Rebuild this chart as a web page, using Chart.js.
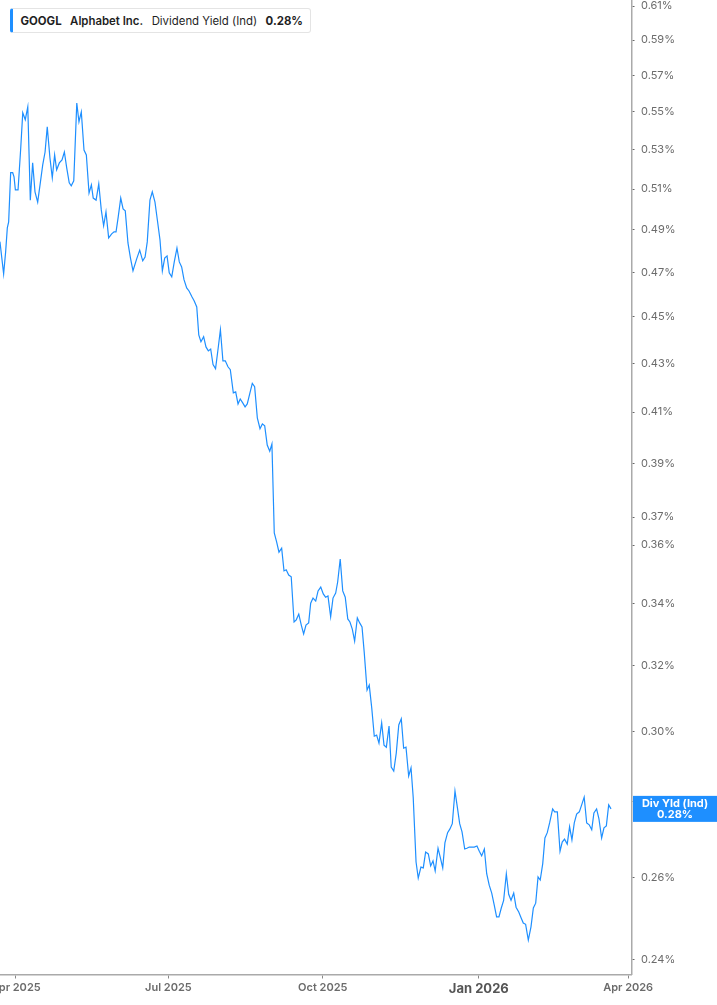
<!DOCTYPE html>
<html>
<head>
<meta charset="utf-8">
<script src="https://cdn.jsdelivr.net/npm/chart.js@4.4.1/dist/chart.umd.min.js"></script>
<style>
  html, body { margin: 0; padding: 0; background: #fff; }
  #wrap { position: relative; width: 717px; height: 1005px; }
  #legend {
    position: absolute; left: 10px; top: 8px; width: 301px; height: 25px;
    box-sizing: border-box; background: #fff;
    border: 1px solid #e4e4e4; border-left: 3px solid #1e8fff; border-radius: 3px;
    display: flex; align-items: center; gap: 8.5px; padding-left: 7.5px;
    font: 11.4px Inter, sans-serif; color: #1f1f1f; white-space: nowrap;
  }
  #legend .tk { font-weight: 700; }
  #legend .nm { font-weight: 600; }
  #legend .ms { font-weight: 400; }
  #legend .vl { font-weight: 700; }
</style>
</head>
<body>
<div id="wrap">
  <canvas id="chart"></canvas>
  <div id="legend">
    <span class="tk">GOOGL</span>
    <span class="nm">Alphabet Inc.</span>
    <span class="ms">Dividend Yield (Ind)</span>
    <span class="vl" id="legendVal"></span>
  </div>
</div>
<script>
// days since 1 Apr 2025 (trading sessions)
const days = [
  -9.4, -7.2, -6.0, -5.0, -4.2, -3.0, -1.8, -1.0, -0.2, 1.4,
  3.0, 4.2, 5.7, 7.2, 8.7, 10.1, 11.5, 13.1, 14.5, 16.1,
  17.5, 18.8, 20.4, 21.8, 23.2, 24.4, 26.0, 27.6, 29.0, 30.4,
  31.9, 33.1, 34.6, 36.4, 37.7, 39.1, 40.7, 42.1, 43.7, 45.1,
  46.2, 47.9, 49.5, 51.0, 52.4, 53.8, 55.4, 57.2, 58.6, 59.8,
  61.1, 62.6, 64.0, 65.3, 66.9, 68.4, 69.9, 72.1, 73.9, 75.7,
  77.1, 78.4, 80.0, 81.4, 83.0, 84.4, 86.0, 87.4, 88.8, 90.2,
  91.5, 93.0, 94.5, 96.1, 97.5, 98.9, 100.3, 101.9, 103.3, 105.1,
  106.4, 107.9, 109.1, 110.4, 112.0, 113.4, 114.8, 116.2, 117.6, 119.1,
  120.6, 122.0, 123.5, 124.9, 126.5, 127.9, 129.7, 131.1, 132.5, 133.8,
  135.3, 136.7, 138.0, 139.6, 141.0, 142.4, 144.0, 145.6, 147.0, 148.4,
  149.9, 151.4, 152.7, 154.1, 155.5, 156.9, 158.5, 159.9, 161.2, 162.7,
  164.2, 165.9, 167.2, 168.7, 170.2, 171.6, 173.0, 174.6, 175.8, 177.2,
  178.8, 180.2, 181.8, 183.3, 184.7, 186.1, 187.7, 189.1, 190.7, 191.9,
  193.4, 194.9, 196.4, 197.9, 199.2, 200.6, 202.0, 203.6, 205.0, 206.4,
  207.7, 209.4, 210.7, 212.2, 213.7, 215.1, 216.5, 218.1, 219.5, 220.9,
  222.5, 223.8, 225.3, 226.8, 228.3, 229.8, 231.2, 232.6, 234.2, 235.6,
  236.9, 238.6, 239.9, 241.5, 242.9, 244.3, 245.9, 247.3, 248.7, 250.0,
  251.7, 253.0, 254.5, 255.8, 257.4, 258.8, 260.2, 261.8, 263.2, 264.6,
  266.0, 267.6, 268.9, 270.3, 271.9, 273.3, 274.9, 276.3, 277.7, 279.3,
  280.7, 282.2, 283.7, 285.2, 286.6, 288.0, 289.4, 290.8, 292.4, 293.8,
  295.2, 296.8, 298.2, 299.8, 301.3, 302.5, 303.9, 305.5, 307.1, 308.5,
  309.9, 311.3, 312.6, 314.1, 315.4, 316.8, 318.2, 320.0, 321.2, 322.8,
  324.4, 325.7, 327.1, 328.7, 330.1, 331.5, 332.9, 334.3, 335.9, 337.3,
  338.8, 340.3, 341.8, 343.3, 344.6, 346.2, 347.6, 349.2, 350.6, 352.0,
  353.4, 354.8
];

// dividend yield, %
const yields = [
  0.4844, 0.4694, 0.4796, 0.4910, 0.4939, 0.5182, 0.5182, 0.5161, 0.5096, 0.5096,
  0.5309, 0.5495, 0.5458, 0.5527, 0.5045, 0.5232, 0.5086, 0.5035, 0.5121, 0.5222,
  0.5288, 0.5420, 0.5258, 0.5156, 0.5273, 0.5197, 0.5232, 0.5247, 0.5288, 0.5207,
  0.5131, 0.5116, 0.5141, 0.5548, 0.5447, 0.5500, 0.5298, 0.5273, 0.5080, 0.5121,
  0.5055, 0.5045, 0.5126, 0.4997, 0.4920, 0.4987, 0.4862, 0.4881, 0.4891, 0.4891,
  0.4963, 0.5055, 0.5002, 0.4992, 0.4838, 0.4767, 0.4708, 0.4763, 0.4804, 0.4754,
  0.4772, 0.4843, 0.5045, 0.5086, 0.5035, 0.4949, 0.4852, 0.4708, 0.4767, 0.4777,
  0.4699, 0.4680, 0.4749, 0.4814, 0.4749, 0.4726, 0.4667, 0.4630, 0.4616, 0.4589,
  0.4571, 0.4544, 0.4422, 0.4392, 0.4414, 0.4370, 0.4353, 0.4361, 0.4295, 0.4278,
  0.4361, 0.4444, 0.4311, 0.4311, 0.4286, 0.4274, 0.4178, 0.4182, 0.4133, 0.4153,
  0.4137, 0.4121, 0.4133, 0.4178, 0.4217, 0.4203, 0.4077, 0.4034, 0.4053, 0.4045,
  0.3970, 0.3946, 0.3974, 0.3643, 0.3611, 0.3575, 0.3589, 0.3510, 0.3514, 0.3496,
  0.3490, 0.3339, 0.3346, 0.3365, 0.3329, 0.3300, 0.3329, 0.3336, 0.3401, 0.3418,
  0.3408, 0.3442, 0.3455, 0.3432, 0.3421, 0.3425, 0.3356, 0.3418, 0.3435, 0.3473,
  0.3551, 0.3442, 0.3421, 0.3349, 0.3339, 0.3316, 0.3277, 0.3352, 0.3336, 0.3323,
  0.3242, 0.3124, 0.3139, 0.3069, 0.2986, 0.2989, 0.2966, 0.3025, 0.2960, 0.2954,
  0.3016, 0.2897, 0.2886, 0.2937, 0.3019, 0.3037, 0.2951, 0.2954, 0.2872, 0.2895,
  0.2813, 0.2640, 0.2599, 0.2627, 0.2625, 0.2666, 0.2661, 0.2630, 0.2643, 0.2617,
  0.2676, 0.2653, 0.2625, 0.2690, 0.2717, 0.2727, 0.2741, 0.2830, 0.2786, 0.2741,
  0.2719, 0.2674, 0.2676, 0.2679, 0.2679, 0.2679, 0.2682, 0.2668, 0.2656, 0.2674,
  0.2610, 0.2581, 0.2561, 0.2531, 0.2502, 0.2502, 0.2524, 0.2543, 0.2610, 0.2558,
  0.2543, 0.2561, 0.2526, 0.2514, 0.2499, 0.2487, 0.2484, 0.2446, 0.2478, 0.2524,
  0.2536, 0.2602, 0.2594, 0.2636, 0.2703, 0.2717, 0.2743, 0.2781, 0.2773, 0.2773,
  0.2668, 0.2692, 0.2700, 0.2687, 0.2733, 0.2698, 0.2743, 0.2767, 0.2773, 0.2792,
  0.2813, 0.2743, 0.2738, 0.2725, 0.2770, 0.2781, 0.2754, 0.2703, 0.2730, 0.2735,
  0.2792, 0.2781
];

// x ticks: first session of each quarter
const xTickDays = [0, 91, 183, 276, 365];
const xTickLabels = ['Apr 2025', 'Jul 2025', 'Oct 2025', 'Jan 2026', 'Apr 2026'];
const yTicks = [0.24, 0.26, 0.28, 0.30, 0.32, 0.34, 0.36, 0.37, 0.39, 0.41,
                0.43, 0.45, 0.47, 0.49, 0.51, 0.53, 0.55, 0.57, 0.59, 0.61];

const LINE = '#1e8fff';
const lastVal = yields[yields.length - 1];
document.getElementById('legendVal').textContent = lastVal.toFixed(2) + '%';

const lastLabel = {
  id: 'lastLabel',
  afterDraw(chart) {
    const { ctx, chartArea } = chart;
    const py = chart.scales.y.getPixelForValue(lastVal);
    const x0 = chartArea.right + 1.5, w = chart.width - x0, h = 26;
    ctx.save();
    ctx.fillStyle = LINE;
    ctx.fillRect(x0, py - h / 2, w, h);
    ctx.fillStyle = '#fff';
    ctx.font = 'bold 11px Inter, sans-serif';
    ctx.textAlign = 'center';
    ctx.textBaseline = 'middle';
    ctx.fillText('Div Yld (Ind)', x0 + w / 2, py - 5.5);
    ctx.fillText(lastVal.toFixed(2) + '%', x0 + w / 2, py + 5.5);
    ctx.restore();
  }
};

new Chart(document.getElementById('chart'), {
  type: 'line',
  data: {
    datasets: [{
      data: days.map((d, i) => ({ x: d, y: yields[i] })),
      borderColor: LINE,
      borderWidth: 1.2,
      pointRadius: 0,
      tension: 0,
      fill: false
    }]
  },
  options: {
    responsive: true,
    maintainAspectRatio: false,
    animation: false,
    layout: { padding: 0 },
    plugins: { legend: { display: false }, tooltip: { enabled: false } },
    scales: {
      x: {
        type: 'linear',
        min: -9.36,
        max: 367,
        afterBuildTicks: s => { s.ticks = xTickDays.map(v => ({ value: v })); },
        afterFit: s => { s.height = 30.5; s.paddingLeft = 0; s.paddingRight = 0; },
        grid: { drawOnChartArea: false, drawTicks: true, tickLength: 4, tickColor: '#888', tickWidth: 1 },
        border: { display: true, color: '#aaaaaa', width: 1.5 },
        ticks: {
          autoSkip: false,
          maxRotation: 0,
          padding: 3,
          color: c => c.tick && c.tick.value === 276 ? '#555' : '#6b6b6b',
          font: c => c.tick && c.tick.value === 276
            ? { family: 'Inter', size: 13, weight: '700' }
            : { family: 'Inter', size: 11, weight: '600' },
          callback: (v, i) => xTickLabels[i]
        }
      },
      y: {
        type: 'logarithmic',
        position: 'right',
        min: 0.2365,
        max: 0.6136,
        afterBuildTicks: s => { s.ticks = yTicks.map(v => ({ value: v })); },
        afterFit: s => { s.width = 85.5; s.paddingTop = 0; s.paddingBottom = 0; },
        grid: { drawOnChartArea: false, drawTicks: true, tickLength: 3, tickColor: '#666', tickWidth: 1 },
        border: { display: true, color: '#aaaaaa', width: 1.5 },
        ticks: {
          autoSkip: false,
          padding: 6.5,
          color: '#6b6b6b',
          font: { family: 'Inter', size: 11, weight: '400' },
          callback: v => v.toFixed(2) + '%'
        }
      }
    }
  },
  plugins: [lastLabel]
});
</script>
</body>
</html>
